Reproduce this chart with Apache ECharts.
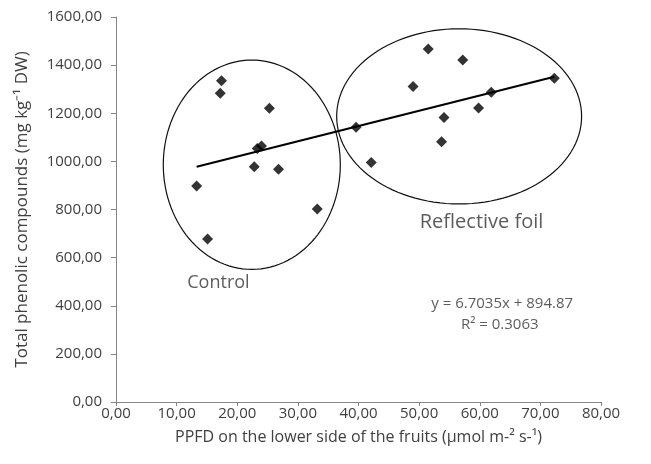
<!DOCTYPE html>
<html><head><meta charset="utf-8">
<script src="https://cdn.jsdelivr.net/npm/echarts@6/dist/echarts.min.js"></script>
<style>html,body{margin:0;padding:0;background:#fff}#c{width:651px;height:464px}</style>
</head><body><div id="c"></div>
<script>
// Data
const controlX = [13.3, 15.1, 17.2, 17.4, 22.8, 23.3, 24.0, 25.3, 26.8, 33.2];
const controlY = [898, 677, 1283, 1335, 978, 1054, 1064, 1221, 967, 802];
const reflX = [39.6, 42.1, 49.0, 51.5, 53.7, 54.1, 57.2, 59.8, 61.9, 72.3];
const reflY = [1142, 995, 1311, 1467, 1082, 1182, 1421, 1222, 1287, 1345];
const trendX = [13.3, 72.3];
const trendY = [978, 1352];
// ellipses: centre x, centre y, radius x, radius y (data units)
const ellipseCX = [22.4, 56.6];
const ellipseCY = [986, 1187];
const ellipseRX = [14.6, 20.2];
const ellipseRY = [435, 364];
// annotations
const noteText = ['Control', 'Reflective foil', 'y = 6.7035x + 894.87', 'R\u00B2 = 0.3063'];
const noteX = [16.9, 60.3, 63.7, 63.3];
const noteY = [495, 745, 410, 320];
const noteSize = [18, 20, 15, 15];

const FONT = '"Open Sans", sans-serif';
const pts = (xs, ys) => xs.map((x, i) => [x, ys[i]]);
const fmt = v => v.toFixed(2).replace('.', ',');

const chart = echarts.init(document.getElementById('c'), null, {renderer: 'canvas'});
chart.setOption({
  animation: false,
  backgroundColor: '#fff',
  grid: {left: 116, right: 50, top: 17, bottom: 62},
  xAxis: {
    type: 'value', min: 0, max: 80, interval: 10,
    name: 'PPFD on the lower side of the fruits (\u00B5mol m-\u00B2 s-\u00B9)',
    nameLocation: 'middle', nameGap: 27,
    nameTextStyle: {fontFamily: FONT, fontSize: 16, color: '#404040'},
    axisLine: {show: true, lineStyle: {color: '#868686', width: 1}},
    axisTick: {show: true, length: 4, lineStyle: {color: '#868686'}},
    axisLabel: {fontFamily: FONT, fontSize: 15, color: '#404040', margin: 4, formatter: fmt},
    splitLine: {show: false}
  },
  yAxis: {
    type: 'value', min: 0, max: 1600, interval: 200,
    name: 'Total phenolic compounds (mg kg\u207B\u00B9 DW)',
    nameLocation: 'middle', nameGap: 85, nameRotate: 90,
    nameTextStyle: {fontFamily: FONT, fontSize: 17, color: '#404040'},
    axisLine: {show: true, lineStyle: {color: '#868686', width: 1}},
    axisTick: {show: true, length: 5, lineStyle: {color: '#868686'}},
    axisLabel: {fontFamily: FONT, fontSize: 15, color: '#404040', margin: 14, formatter: fmt},
    splitLine: {show: false}
  },
  series: [
    {
      type: 'custom', silent: true,
      data: ellipseCX.map((cx, i) => [cx, ellipseCY[i], ellipseRX[i], ellipseRY[i]]),
      renderItem: (params, api) => {
        const c = api.coord([api.value(0), api.value(1)]);
        const s = api.size([api.value(2), api.value(3)]);
        const points = [];
        for (let k = 0; k < 120; k++) {
          const a = k / 120 * Math.PI * 2;
          points.push([c[0] + s[0] * Math.cos(a), c[1] + s[1] * Math.sin(a)]);
        }
        return {type: 'polygon', shape: {points}, style: {fill: 'none', stroke: '#111', lineWidth: 1.2}};
      },
      z: 1
    },
    {
      type: 'line', data: pts(trendX, trendY), symbol: 'none',
      lineStyle: {color: '#000', width: 2}, z: 2
    },
    {
      type: 'scatter', data: pts(controlX, controlY), symbol: 'diamond', symbolSize: 11,
      itemStyle: {color: '#000'}, z: 3
    },
    {
      type: 'scatter', data: pts(reflX, reflY), symbol: 'diamond', symbolSize: 11,
      itemStyle: {color: '#000'}, z: 3
    },
    {
      type: 'scatter', symbolSize: 0, silent: true,
      data: noteText.map((t, i) => ({value: [noteX[i], noteY[i]], name: t,
        label: {show: true, position: 'inside', formatter: t, fontFamily: FONT,
          fontSize: noteSize[i], color: '#333'}})),
      z: 4
    }
  ]
});
</script></body></html>
